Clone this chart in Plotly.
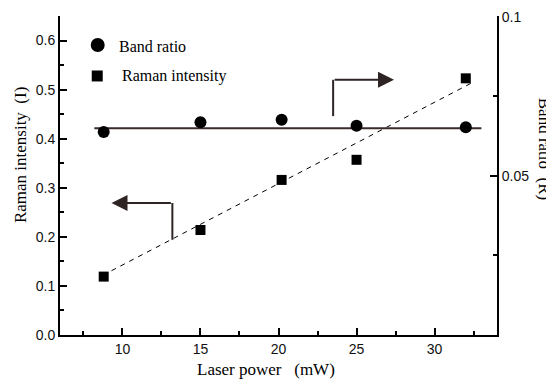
import plotly.graph_objects as go

# Data
laser_power = [8.8, 15.0, 20.2, 25.0, 32.0]
raman_intensity = [0.119, 0.214, 0.316, 0.357, 0.523]
band_ratio = [0.0638, 0.0669, 0.0677, 0.0658, 0.0653]

# Fitted lines
band_fit_x = [8.2, 33.0]
band_fit_y = [0.065, 0.065]
raman_fit_x = [9.3, 32.4]
raman_fit_y = [0.131, 0.514]

# Arrows (left-axis coordinates): start, corner, tip
left_arrow = dict(x0=13.2, y0=0.194, ycorner=0.269, xtip=9.3)
right_arrow = dict(x0=23.5, y0=0.446, ycorner=0.520, xtip=27.4)

x_ticks = [10, 15, 20, 25, 30]
y_ticks = [0.0, 0.1, 0.2, 0.3, 0.4, 0.5, 0.6]
y2_ticks = [0.05, 0.1]
y2_ticktext = ["0.05", "0.1"]

serif = "Liberation Serif, Times New Roman, serif"
sans = "Liberation Sans, Arial, sans-serif"
dark = "#2e2424"

fig = go.Figure()
fig.add_trace(go.Scatter(x=band_fit_x, y=band_fit_y, mode="lines", yaxis="y2",
                         line=dict(color="#3a2a2a", width=2), showlegend=False))
fig.add_trace(go.Scatter(x=raman_fit_x, y=raman_fit_y, mode="lines",
                         line=dict(color="black", width=1, dash="5px,5px"), showlegend=False))
fig.add_trace(go.Scatter(x=laser_power, y=band_ratio, mode="markers", yaxis="y2",
                         marker=dict(symbol="circle", size=12, color="black"), showlegend=False))
fig.add_trace(go.Scatter(x=laser_power, y=raman_intensity, mode="markers",
                         marker=dict(symbol="square", size=10, color="black"), showlegend=False))

shapes = []
annotations = []
for a in (left_arrow, right_arrow):
    shapes.append(dict(type="line", xref="x", yref="y", x0=a["x0"], x1=a["x0"],
                       y0=a["y0"], y1=a["ycorner"], line=dict(color=dark, width=2)))
    annotations.append(dict(x=a["xtip"], y=a["ycorner"], ax=a["x0"], ay=a["ycorner"],
                            xref="x", yref="y", axref="x", ayref="y", text="",
                            showarrow=True, arrowhead=2, arrowsize=1.6, arrowwidth=2,
                            arrowcolor=dark))

# Legend drawn by hand
shapes.append(dict(type="circle", xref="paper", yref="paper", x0=0.0863 - 0.016, x1=0.0863 + 0.016,
                   y0=0.909 - 0.022, y1=0.909 + 0.022, fillcolor="black", line=dict(width=0)))
shapes.append(dict(type="rect", xref="paper", yref="paper", x0=0.0852 - 0.0126, x1=0.0852 + 0.0126,
                   y0=0.812 - 0.0172, y1=0.812 + 0.0172, fillcolor="black", line=dict(width=0)))
annotations.append(dict(x=0.1304, y=0.903, xref="paper", yref="paper", text="Band ratio",
                        showarrow=False, xanchor="left", yanchor="middle",
                        font=dict(family=serif, size=16, color="black")))
annotations.append(dict(x=0.1373, y=0.812, xref="paper", yref="paper", text="Raman intensity",
                        showarrow=False, xanchor="left", yanchor="middle",
                        font=dict(family=serif, size=16, color="black")))

# Axis titles
annotations.append(dict(x=-0.0915, y=0.564, xref="paper", yref="paper",
                        text="Raman intensity\u00a0\u00a0(I)", textangle=-90, showarrow=False,
                        xanchor="center", yanchor="middle",
                        font=dict(family=serif, size=17, color="black")))
annotations.append(dict(x=1.109, y=0.585, xref="paper", yref="paper",
                        text="Band ratio\u00a0\u00a0(R)", textangle=90, showarrow=False,
                        xanchor="center", yanchor="middle",
                        font=dict(family=serif, size=17, color="black")))
annotations.append(dict(x=0.4714, y=-0.1097, xref="paper", yref="paper",
                        text="Laser power\u00a0\u00a0\u00a0(mW)", showarrow=False,
                        xanchor="center", yanchor="middle",
                        font=dict(family=serif, size=17, color="black")))

axis_common = dict(showline=True, linecolor="black", linewidth=2, ticks="inside",
                   ticklen=7, tickwidth=1.5, tickcolor="black", showgrid=False,
                   zeroline=False, automargin=False,
                   tickfont=dict(family=sans, size=14, color="#111"))

fig.update_layout(
    width=546, height=372,
    margin=dict(l=52, r=57, t=8, b=45, autoexpand=False),
    paper_bgcolor="white", plot_bgcolor="white",
    showlegend=False,
    xaxis=dict(range=[6, 34], tickvals=x_ticks,
               minor=dict(dtick=2.5, tick0=0, ticks="inside", ticklen=4, tickcolor="black", tickwidth=1.5),
               **axis_common),
    yaxis=dict(range=[0, 0.65], tickvals=y_ticks, tickformat=".1f",
               minor=dict(dtick=0.05, tick0=0, ticks="inside", ticklen=4, tickcolor="black", tickwidth=1.5),
               **axis_common),
    yaxis2=dict(range=[0, 0.1003], overlaying="y", side="right", tickvals=y2_ticks,
                ticktext=y2_ticktext,
                minor=dict(tickvals=[0.025, 0.075], ticks="inside", ticklen=4, tickcolor="black", tickwidth=1.5),
                **axis_common),
    shapes=shapes,
    annotations=annotations,
)

fig.write_html("out.html")
